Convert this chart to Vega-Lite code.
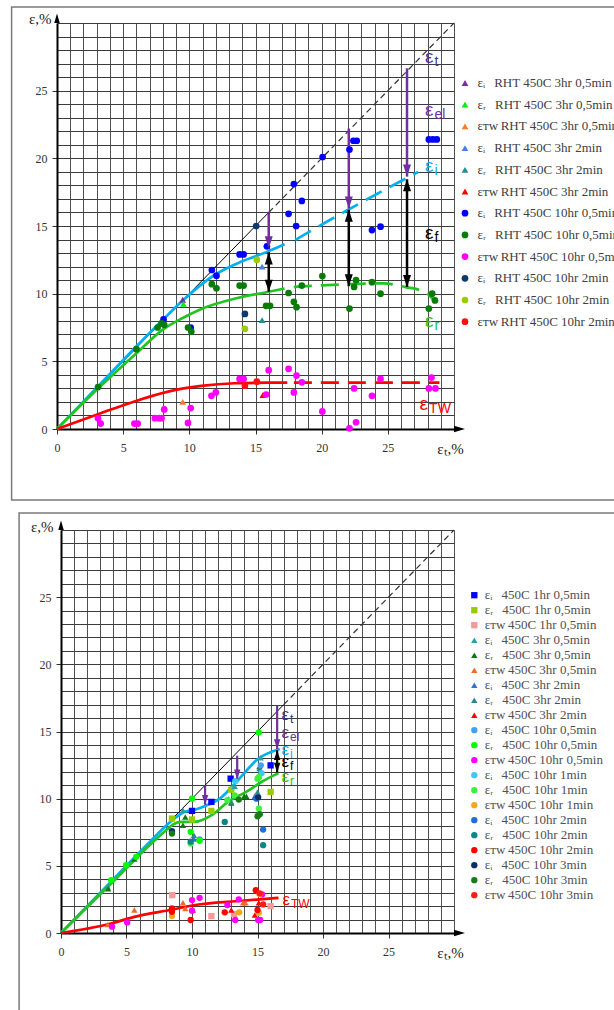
{
  "$schema": "https://vega.github.io/schema/vega-lite/v6.json",
  "background": "white",
  "padding": {"left": 10, "top": 6, "right": 0, "bottom": 0},
  "config": {"view": {"stroke": null}},
  "spacing": 101,
  "bounds": "flush",
  "resolve": {"scale": {"x": "independent", "y": "independent", "color": "independent", "shape": "independent", "fill": "independent", "stroke": "independent"}, "legend": {"color": "independent", "shape": "independent"}},
  "datasets": {
    "one": [{}],
    "topPts": [
      {"s": "εᵢ\u2002\u2009RHT 450C 3hr 0,5min", "x": 9.5, "y": 9.55},
      {"s": "εᵣ\u2002\u2009RHT 450C 3hr 0,5min", "x": 9.55, "y": 9.25},
      {"s": "εᴛᴡ\u2009RHT 450C 3hr 0,5min", "x": 9.5, "y": 2.0},
      {"s": "εᵢ\u2002\u2009RHT 450C 3hr 2min", "x": 15.5, "y": 12.0},
      {"s": "εᵣ\u2002\u2009RHT 450C 3hr 2min", "x": 15.5, "y": 8.05},
      {"s": "εᴛᴡ\u2009RHT 450C 3hr 2min", "x": 15.55, "y": 2.5},
      {"s": "εᵢ\u2002\u2009RHT 450C 10hr 0,5min", "x": 8.05, "y": 8.1},
      {"s": "εᵢ\u2002\u2009RHT 450C 10hr 0,5min", "x": 10.1, "y": 7.5},
      {"s": "εᵢ\u2002\u2009RHT 450C 10hr 0,5min", "x": 11.7, "y": 11.75},
      {"s": "εᵢ\u2002\u2009RHT 450C 10hr 0,5min", "x": 12.05, "y": 11.33},
      {"s": "εᵢ\u2002\u2009RHT 450C 10hr 0,5min", "x": 13.8, "y": 12.9},
      {"s": "εᵢ\u2002\u2009RHT 450C 10hr 0,5min", "x": 14.1, "y": 12.9},
      {"s": "εᵢ\u2002\u2009RHT 450C 10hr 0,5min", "x": 15.86, "y": 13.5},
      {"s": "εᵢ\u2002\u2009RHT 450C 10hr 0,5min", "x": 17.5, "y": 15.9},
      {"s": "εᵢ\u2002\u2009RHT 450C 10hr 0,5min", "x": 17.9, "y": 18.1},
      {"s": "εᵢ\u2002\u2009RHT 450C 10hr 0,5min", "x": 18.07, "y": 15.0},
      {"s": "εᵢ\u2002\u2009RHT 450C 10hr 0,5min", "x": 18.5, "y": 16.85},
      {"s": "εᵢ\u2002\u2009RHT 450C 10hr 0,5min", "x": 20.07, "y": 20.1},
      {"s": "εᵢ\u2002\u2009RHT 450C 10hr 0,5min", "x": 22.1, "y": 20.65},
      {"s": "εᵢ\u2002\u2009RHT 450C 10hr 0,5min", "x": 22.4, "y": 21.3},
      {"s": "εᵢ\u2002\u2009RHT 450C 10hr 0,5min", "x": 22.65, "y": 21.3},
      {"s": "εᵢ\u2002\u2009RHT 450C 10hr 0,5min", "x": 23.8, "y": 14.7},
      {"s": "εᵢ\u2002\u2009RHT 450C 10hr 0,5min", "x": 24.45, "y": 14.95},
      {"s": "εᵢ\u2002\u2009RHT 450C 10hr 0,5min", "x": 28.1, "y": 21.4},
      {"s": "εᵢ\u2002\u2009RHT 450C 10hr 0,5min", "x": 28.4, "y": 21.4},
      {"s": "εᵢ\u2002\u2009RHT 450C 10hr 0,5min", "x": 28.7, "y": 21.4},
      {"s": "εᵣ\u2002\u2009RHT 450C 10hr 0,5min", "x": 3.1, "y": 3.1},
      {"s": "εᵣ\u2002\u2009RHT 450C 10hr 0,5min", "x": 6.0, "y": 5.9},
      {"s": "εᵣ\u2002\u2009RHT 450C 10hr 0,5min", "x": 7.6, "y": 7.5},
      {"s": "εᵣ\u2002\u2009RHT 450C 10hr 0,5min", "x": 7.9, "y": 7.8},
      {"s": "εᵣ\u2002\u2009RHT 450C 10hr 0,5min", "x": 8.1, "y": 7.7},
      {"s": "εᵣ\u2002\u2009RHT 450C 10hr 0,5min", "x": 9.9, "y": 7.5},
      {"s": "εᵣ\u2002\u2009RHT 450C 10hr 0,5min", "x": 10.15, "y": 7.2},
      {"s": "εᵣ\u2002\u2009RHT 450C 10hr 0,5min", "x": 11.7, "y": 10.7},
      {"s": "εᵣ\u2002\u2009RHT 450C 10hr 0,5min", "x": 12.05, "y": 10.4},
      {"s": "εᵣ\u2002\u2009RHT 450C 10hr 0,5min", "x": 13.8, "y": 10.6},
      {"s": "εᵣ\u2002\u2009RHT 450C 10hr 0,5min", "x": 14.1, "y": 10.6},
      {"s": "εᵣ\u2002\u2009RHT 450C 10hr 0,5min", "x": 15.8, "y": 9.1},
      {"s": "εᵣ\u2002\u2009RHT 450C 10hr 0,5min", "x": 16.1, "y": 9.1},
      {"s": "εᵣ\u2002\u2009RHT 450C 10hr 0,5min", "x": 17.5, "y": 10.05},
      {"s": "εᵣ\u2002\u2009RHT 450C 10hr 0,5min", "x": 17.9, "y": 9.4},
      {"s": "εᵣ\u2002\u2009RHT 450C 10hr 0,5min", "x": 18.1, "y": 9.0},
      {"s": "εᵣ\u2002\u2009RHT 450C 10hr 0,5min", "x": 18.5, "y": 10.6},
      {"s": "εᵣ\u2002\u2009RHT 450C 10hr 0,5min", "x": 20.05, "y": 11.3},
      {"s": "εᵣ\u2002\u2009RHT 450C 10hr 0,5min", "x": 22.1, "y": 8.9},
      {"s": "εᵣ\u2002\u2009RHT 450C 10hr 0,5min", "x": 22.45, "y": 10.5},
      {"s": "εᵣ\u2002\u2009RHT 450C 10hr 0,5min", "x": 22.6, "y": 11.0},
      {"s": "εᵣ\u2002\u2009RHT 450C 10hr 0,5min", "x": 23.8, "y": 10.85},
      {"s": "εᵣ\u2002\u2009RHT 450C 10hr 0,5min", "x": 24.45, "y": 10.0},
      {"s": "εᵣ\u2002\u2009RHT 450C 10hr 0,5min", "x": 28.1, "y": 8.9},
      {"s": "εᵣ\u2002\u2009RHT 450C 10hr 0,5min", "x": 28.35, "y": 10.0},
      {"s": "εᵣ\u2002\u2009RHT 450C 10hr 0,5min", "x": 28.56, "y": 9.5},
      {"s": "εᴛᴡ\u2009RHT 450C 10hr 0,5min", "x": 3.1, "y": 0.8},
      {"s": "εᴛᴡ\u2009RHT 450C 10hr 0,5min", "x": 3.3, "y": 0.4},
      {"s": "εᴛᴡ\u2009RHT 450C 10hr 0,5min", "x": 5.85, "y": 0.4},
      {"s": "εᴛᴡ\u2009RHT 450C 10hr 0,5min", "x": 6.1, "y": 0.4},
      {"s": "εᴛᴡ\u2009RHT 450C 10hr 0,5min", "x": 7.4, "y": 0.8},
      {"s": "εᴛᴡ\u2009RHT 450C 10hr 0,5min", "x": 7.7, "y": 0.8},
      {"s": "εᴛᴡ\u2009RHT 450C 10hr 0,5min", "x": 7.9, "y": 0.8},
      {"s": "εᴛᴡ\u2009RHT 450C 10hr 0,5min", "x": 8.1, "y": 1.45},
      {"s": "εᴛᴡ\u2009RHT 450C 10hr 0,5min", "x": 10.1, "y": 1.55},
      {"s": "εᴛᴡ\u2009RHT 450C 10hr 0,5min", "x": 9.9, "y": 0.45},
      {"s": "εᴛᴡ\u2009RHT 450C 10hr 0,5min", "x": 11.67, "y": 2.45},
      {"s": "εᴛᴡ\u2009RHT 450C 10hr 0,5min", "x": 12.0, "y": 2.7},
      {"s": "εᴛᴡ\u2009RHT 450C 10hr 0,5min", "x": 13.8, "y": 3.7},
      {"s": "εᴛᴡ\u2009RHT 450C 10hr 0,5min", "x": 14.1, "y": 3.7},
      {"s": "εᴛᴡ\u2009RHT 450C 10hr 0,5min", "x": 15.8, "y": 2.55},
      {"s": "εᴛᴡ\u2009RHT 450C 10hr 0,5min", "x": 16.0, "y": 4.35},
      {"s": "εᴛᴡ\u2009RHT 450C 10hr 0,5min", "x": 17.5, "y": 4.45},
      {"s": "εᴛᴡ\u2009RHT 450C 10hr 0,5min", "x": 17.9, "y": 2.7},
      {"s": "εᴛᴡ\u2009RHT 450C 10hr 0,5min", "x": 18.1, "y": 3.95},
      {"s": "εᴛᴡ\u2009RHT 450C 10hr 0,5min", "x": 18.5, "y": 3.45},
      {"s": "εᴛᴡ\u2009RHT 450C 10hr 0,5min", "x": 20.05, "y": 1.3},
      {"s": "εᴛᴡ\u2009RHT 450C 10hr 0,5min", "x": 22.1, "y": 0.05},
      {"s": "εᴛᴡ\u2009RHT 450C 10hr 0,5min", "x": 22.45, "y": 3.0},
      {"s": "εᴛᴡ\u2009RHT 450C 10hr 0,5min", "x": 22.6, "y": 0.5},
      {"s": "εᴛᴡ\u2009RHT 450C 10hr 0,5min", "x": 23.8, "y": 2.45},
      {"s": "εᴛᴡ\u2009RHT 450C 10hr 0,5min", "x": 24.45, "y": 3.7},
      {"s": "εᴛᴡ\u2009RHT 450C 10hr 0,5min", "x": 28.3, "y": 3.8},
      {"s": "εᴛᴡ\u2009RHT 450C 10hr 0,5min", "x": 28.1, "y": 3.0},
      {"s": "εᴛᴡ\u2009RHT 450C 10hr 0,5min", "x": 28.6, "y": 3.0},
      {"s": "εᵢ\u2002\u2009RHT 450C 10hr 2min", "x": 15.05, "y": 15.0},
      {"s": "εᵢ\u2002\u2009RHT 450C 10hr 2min", "x": 14.2, "y": 8.5},
      {"s": "εᵣ\u2002\u2009RHT 450C 10hr 2min", "x": 15.1, "y": 12.5},
      {"s": "εᵣ\u2002\u2009RHT 450C 10hr 2min", "x": 14.2, "y": 7.4},
      {"s": "εᴛᴡ\u2009RHT 450C 10hr 2min", "x": 14.2, "y": 3.2},
      {"s": "εᴛᴡ\u2009RHT 450C 10hr 2min", "x": 15.1, "y": 3.5}
    ],
    "topLines": [
      {"c": "diag", "p": "solid", "x": 0, "y": 0},
      {"c": "diag", "p": "solid", "x": 16, "y": 16},
      {"c": "diag", "p": "dash", "x": 16, "y": 16},
      {"c": "diag", "p": "dash", "x": 30, "y": 30},
      {"c": "i", "p": "solid", "x": 0, "y": 0},
      {"c": "i", "p": "solid", "x": 3, "y": 3.05},
      {"c": "i", "p": "solid", "x": 6, "y": 6.1},
      {"c": "i", "p": "solid", "x": 8, "y": 8.07},
      {"c": "i", "p": "solid", "x": 9.5, "y": 9.5},
      {"c": "i", "p": "solid", "x": 11.9, "y": 11.38},
      {"c": "i", "p": "solid", "x": 13.9, "y": 12.36},
      {"c": "i", "p": "solid", "x": 15.9, "y": 13.1},
      {"c": "i", "p": "solid", "x": 17.2, "y": 13.65},
      {"c": "i", "p": "dash", "x": 18.0, "y": 13.97},
      {"c": "i", "p": "dash", "x": 22, "y": 16.2},
      {"c": "i", "p": "dash", "x": 27.3, "y": 19.0},
      {"c": "r", "p": "solid", "x": 0, "y": 0},
      {"c": "r", "p": "solid", "x": 3, "y": 2.9},
      {"c": "r", "p": "solid", "x": 6, "y": 5.6},
      {"c": "r", "p": "solid", "x": 8, "y": 7.35},
      {"c": "r", "p": "solid", "x": 9.5, "y": 8.2},
      {"c": "r", "p": "solid", "x": 11, "y": 8.9},
      {"c": "r", "p": "solid", "x": 13.4, "y": 9.62},
      {"c": "r", "p": "solid", "x": 15.9, "y": 10.12},
      {"c": "r", "p": "solid", "x": 17.2, "y": 10.38},
      {"c": "r", "p": "dash", "x": 17.9, "y": 10.5},
      {"c": "r", "p": "dash", "x": 21.7, "y": 10.69},
      {"c": "r", "p": "dash", "x": 24.7, "y": 10.76},
      {"c": "r", "p": "dash", "x": 26.4, "y": 10.47},
      {"c": "r", "p": "dash", "x": 27.3, "y": 10.3},
      {"c": "r", "p": "dash", "x": 28.1, "y": 9.9},
      {"c": "r", "p": "dash", "x": 28.4, "y": 9.6},
      {"c": "TW", "p": "solid", "x": 0, "y": 0},
      {"c": "TW", "p": "solid", "x": 3.3, "y": 1.16},
      {"c": "TW", "p": "solid", "x": 5.8, "y": 2.02},
      {"c": "TW", "p": "solid", "x": 8.4, "y": 2.76},
      {"c": "TW", "p": "solid", "x": 10.9, "y": 3.18},
      {"c": "TW", "p": "solid", "x": 13.4, "y": 3.38},
      {"c": "TW", "p": "solid", "x": 15.9, "y": 3.42},
      {"c": "TW", "p": "solid", "x": 17.4, "y": 3.42},
      {"c": "TW", "p": "dash", "x": 17.9, "y": 3.42},
      {"c": "TW", "p": "dash", "x": 28.9, "y": 3.42}
    ],
    "topArrows": [
      {"k": "el", "x": 16.0, "y1": 16.05, "y2": 13.35},
      {"k": "el", "x": 22.05, "y1": 22.2, "y2": 16.3},
      {"k": "el", "x": 26.45, "y1": 26.65, "y2": 18.65},
      {"k": "f", "x": 16.0, "y1": 13.05, "y2": 10.15},
      {"k": "f", "x": 22.05, "y1": 16.2, "y2": 10.55},
      {"k": "f", "x": 26.45, "y1": 18.45, "y2": 10.5}
    ],
    "topLabels": [
      {"k": "t", "x": 27.8, "y": 27.5, "sub": "t"},
      {"k": "el", "x": 27.8, "y": 23.6, "sub": "el"},
      {"k": "i", "x": 27.8, "y": 19.4, "sub": "i"},
      {"k": "f", "x": 27.8, "y": 14.5, "sub": "f"},
      {"k": "r", "x": 27.8, "y": 8.0, "sub": "r"},
      {"k": "TW", "x": 27.4, "y": 1.85, "sub": "TW"}
    ],
    "botPts": [
      {"s": "εᵢ\u2002\u2009450C 1hr 0,5min", "x": 10.0, "y": 9.09},
      {"s": "εᵢ\u2002\u2009450C 1hr 0,5min", "x": 11.48, "y": 9.76},
      {"s": "εᵢ\u2002\u2009450C 1hr 0,5min", "x": 12.95, "y": 11.49},
      {"s": "εᵢ\u2002\u2009450C 1hr 0,5min", "x": 16.0, "y": 12.48},
      {"s": "εᵣ\u2002\u2009450C 1hr 0,5min", "x": 8.47, "y": 8.52},
      {"s": "εᵣ\u2002\u2009450C 1hr 0,5min", "x": 10.0, "y": 8.45},
      {"s": "εᵣ\u2002\u2009450C 1hr 0,5min", "x": 11.48, "y": 9.09},
      {"s": "εᵣ\u2002\u2009450C 1hr 0,5min", "x": 13.0, "y": 10.67},
      {"s": "εᵣ\u2002\u2009450C 1hr 0,5min", "x": 16.0, "y": 10.5},
      {"s": "εᴛᴡ\u2009450C 1hr 0,5min", "x": 8.49, "y": 2.82},
      {"s": "εᴛᴡ\u2009450C 1hr 0,5min", "x": 11.48, "y": 1.26},
      {"s": "εᴛᴡ\u2009450C 1hr 0,5min", "x": 13.2, "y": 1.41},
      {"s": "εᴛᴡ\u2009450C 1hr 0,5min", "x": 16.0, "y": 2.0},
      {"s": "εᵢ\u2002\u2009450C 3hr 0,5min", "x": 3.57, "y": 3.44},
      {"s": "εᵢ\u2002\u2009450C 3hr 0,5min", "x": 9.31, "y": 9.14},
      {"s": "εᵢ\u2002\u2009450C 3hr 0,5min", "x": 12.8, "y": 10.0},
      {"s": "εᵢ\u2002\u2009450C 3hr 0,5min", "x": 13.26, "y": 10.92},
      {"s": "εᵢ\u2002\u2009450C 3hr 0,5min", "x": 15.25, "y": 13.05},
      {"s": "εᵣ\u2002\u2009450C 3hr 0,5min", "x": 3.6, "y": 3.3},
      {"s": "εᵣ\u2002\u2009450C 3hr 0,5min", "x": 5.6, "y": 5.5},
      {"s": "εᵣ\u2002\u2009450C 3hr 0,5min", "x": 9.31, "y": 8.02},
      {"s": "εᵣ\u2002\u2009450C 3hr 0,5min", "x": 9.49, "y": 8.64},
      {"s": "εᵣ\u2002\u2009450C 3hr 0,5min", "x": 13.0, "y": 9.68},
      {"s": "εᵣ\u2002\u2009450C 3hr 0,5min", "x": 13.98, "y": 10.18},
      {"s": "εᵣ\u2002\u2009450C 3hr 0,5min", "x": 14.15, "y": 10.18},
      {"s": "εᵣ\u2002\u2009450C 3hr 0,5min", "x": 15.15, "y": 12.4},
      {"s": "εᴛᴡ\u2009450C 3hr 0,5min", "x": 3.57, "y": 0.64},
      {"s": "εᴛᴡ\u2009450C 3hr 0,5min", "x": 5.6, "y": 1.71},
      {"s": "εᴛᴡ\u2009450C 3hr 0,5min", "x": 9.31, "y": 2.25},
      {"s": "εᴛᴡ\u2009450C 3hr 0,5min", "x": 9.49, "y": 1.83},
      {"s": "εᴛᴡ\u2009450C 3hr 0,5min", "x": 13.9, "y": 2.25},
      {"s": "εᴛᴡ\u2009450C 3hr 0,5min", "x": 14.08, "y": 2.25},
      {"s": "εᵢ\u2002\u2009450C 3hr 2min", "x": 10.15, "y": 7.0},
      {"s": "εᵢ\u2002\u2009450C 3hr 2min", "x": 14.79, "y": 10.18},
      {"s": "εᵣ\u2002\u2009450C 3hr 2min", "x": 10.15, "y": 7.28},
      {"s": "εᵣ\u2002\u2009450C 3hr 2min", "x": 13.0, "y": 9.75},
      {"s": "εᵣ\u2002\u2009450C 3hr 2min", "x": 15.15, "y": 12.24},
      {"s": "εᵣ\u2002\u2009450C 3hr 2min", "x": 15.0, "y": 10.5},
      {"s": "εᴛᴡ\u2009450C 3hr 2min", "x": 10.07, "y": 1.71},
      {"s": "εᴛᴡ\u2009450C 3hr 2min", "x": 13.0, "y": 1.71},
      {"s": "εᴛᴡ\u2009450C 3hr 2min", "x": 14.8, "y": 1.34},
      {"s": "εᴛᴡ\u2009450C 3hr 2min", "x": 15.1, "y": 2.25},
      {"s": "εᵢ\u2002\u2009450C 10hr 0,5min", "x": 10.58, "y": 6.96},
      {"s": "εᵢ\u2002\u2009450C 10hr 0,5min", "x": 15.25, "y": 12.48},
      {"s": "εᵣ\u2002\u2009450C 10hr 0,5min", "x": 3.83, "y": 3.94},
      {"s": "εᵣ\u2002\u2009450C 10hr 0,5min", "x": 4.97, "y": 5.05},
      {"s": "εᵣ\u2002\u2009450C 10hr 0,5min", "x": 5.74, "y": 5.67},
      {"s": "εᵣ\u2002\u2009450C 10hr 0,5min", "x": 10.0, "y": 10.0},
      {"s": "εᵣ\u2002\u2009450C 10hr 0,5min", "x": 15.1, "y": 14.93},
      {"s": "εᵣ\u2002\u2009450C 10hr 0,5min", "x": 9.9, "y": 7.53},
      {"s": "εᵣ\u2002\u2009450C 10hr 0,5min", "x": 10.58, "y": 6.87},
      {"s": "εᴛᴡ\u2009450C 10hr 0,5min", "x": 3.9, "y": 0.47},
      {"s": "εᴛᴡ\u2009450C 10hr 0,5min", "x": 5.05, "y": 0.79},
      {"s": "εᴛᴡ\u2009450C 10hr 0,5min", "x": 10.0, "y": 2.45},
      {"s": "εᴛᴡ\u2009450C 10hr 0,5min", "x": 10.58, "y": 2.62},
      {"s": "εᴛᴡ\u2009450C 10hr 0,5min", "x": 10.0, "y": 1.66},
      {"s": "εᴛᴡ\u2009450C 10hr 0,5min", "x": 12.7, "y": 2.08},
      {"s": "εᴛᴡ\u2009450C 10hr 0,5min", "x": 13.3, "y": 0.97},
      {"s": "εᴛᴡ\u2009450C 10hr 0,5min", "x": 13.57, "y": 2.5},
      {"s": "εᴛᴡ\u2009450C 10hr 0,5min", "x": 15.35, "y": 2.87},
      {"s": "εᴛᴡ\u2009450C 10hr 0,5min", "x": 15.05, "y": 0.97},
      {"s": "εᴛᴡ\u2009450C 10hr 0,5min", "x": 15.2, "y": 0.97},
      {"s": "εᵢ\u2002\u2009450C 10hr 1min", "x": 13.3, "y": 11.3},
      {"s": "εᵢ\u2002\u2009450C 10hr 1min", "x": 15.3, "y": 11.9},
      {"s": "εᵣ\u2002\u2009450C 10hr 1min", "x": 9.9, "y": 6.66},
      {"s": "εᵣ\u2002\u2009450C 10hr 1min", "x": 13.26, "y": 10.25},
      {"s": "εᵣ\u2002\u2009450C 10hr 1min", "x": 15.0, "y": 11.49},
      {"s": "εᵣ\u2002\u2009450C 10hr 1min", "x": 15.1, "y": 11.6},
      {"s": "εᵣ\u2002\u2009450C 10hr 1min", "x": 15.1, "y": 9.26},
      {"s": "εᵣ\u2002\u2009450C 10hr 1min", "x": 12.7, "y": 9.88},
      {"s": "εᴛᴡ\u2009450C 10hr 1min", "x": 8.47, "y": 1.26},
      {"s": "εᴛᴡ\u2009450C 10hr 1min", "x": 13.6, "y": 1.54},
      {"s": "εᴛᴡ\u2009450C 10hr 1min", "x": 15.15, "y": 2.9},
      {"s": "εᴛᴡ\u2009450C 10hr 1min", "x": 15.1, "y": 1.51},
      {"s": "εᵢ\u2002\u2009450C 10hr 2min", "x": 14.92, "y": 10.0},
      {"s": "εᵢ\u2002\u2009450C 10hr 2min", "x": 15.43, "y": 7.7},
      {"s": "εᵣ\u2002\u2009450C 10hr 2min", "x": 12.5, "y": 8.27},
      {"s": "εᵣ\u2002\u2009450C 10hr 2min", "x": 15.43, "y": 6.54},
      {"s": "εᵣ\u2002\u2009450C 10hr 2min", "x": 9.9, "y": 6.8},
      {"s": "εᴛᴡ\u2009450C 10hr 2min", "x": 8.47, "y": 1.83},
      {"s": "εᴛᴡ\u2009450C 10hr 2min", "x": 8.47, "y": 1.58},
      {"s": "εᴛᴡ\u2009450C 10hr 2min", "x": 9.9, "y": 0.97},
      {"s": "εᴛᴡ\u2009450C 10hr 2min", "x": 12.5, "y": 1.54},
      {"s": "εᴛᴡ\u2009450C 10hr 2min", "x": 14.87, "y": 3.19},
      {"s": "εᴛᴡ\u2009450C 10hr 2min", "x": 15.0, "y": 1.71},
      {"s": "εᵢ\u2002\u2009450C 10hr 3min", "x": 8.47, "y": 7.58},
      {"s": "εᵢ\u2002\u2009450C 10hr 3min", "x": 15.05, "y": 10.1},
      {"s": "εᵣ\u2002\u2009450C 10hr 3min", "x": 8.47, "y": 7.4},
      {"s": "εᵣ\u2002\u2009450C 10hr 3min", "x": 15.0, "y": 8.69},
      {"s": "εᵣ\u2002\u2009450C 10hr 3min", "x": 15.17, "y": 8.84},
      {"s": "εᵣ\u2002\u2009450C 10hr 3min", "x": 13.57, "y": 9.93},
      {"s": "εᴛᴡ\u2009450C 10hr 3min", "x": 15.17, "y": 2.95},
      {"s": "εᴛᴡ\u2009450C 10hr 3min", "x": 15.43, "y": 2.13}
    ],
    "botLines": [
      {"c": "diag", "p": "solid", "x": 0, "y": 0},
      {"c": "diag", "p": "solid", "x": 17, "y": 17},
      {"c": "diag", "p": "dash", "x": 17, "y": 17},
      {"c": "diag", "p": "dash", "x": 30, "y": 30},
      {"c": "i", "p": "solid", "x": 0, "y": 0},
      {"c": "i", "p": "solid", "x": 4, "y": 4.0},
      {"c": "i", "p": "solid", "x": 7, "y": 7.0},
      {"c": "i", "p": "solid", "x": 8.2, "y": 8.15},
      {"c": "i", "p": "solid", "x": 8.7, "y": 8.55},
      {"c": "i", "p": "solid", "x": 9.4, "y": 9.0},
      {"c": "i", "p": "solid", "x": 10.2, "y": 9.17},
      {"c": "i", "p": "solid", "x": 11.0, "y": 9.45},
      {"c": "i", "p": "solid", "x": 12.24, "y": 10.1},
      {"c": "i", "p": "solid", "x": 13.5, "y": 11.37},
      {"c": "i", "p": "solid", "x": 15.05, "y": 12.97},
      {"c": "i", "p": "solid", "x": 16.7, "y": 13.7},
      {"c": "r", "p": "solid", "x": 0, "y": 0},
      {"c": "r", "p": "solid", "x": 4, "y": 3.85},
      {"c": "r", "p": "solid", "x": 7, "y": 6.75},
      {"c": "r", "p": "solid", "x": 8.2, "y": 7.8},
      {"c": "r", "p": "solid", "x": 8.6, "y": 8.1},
      {"c": "r", "p": "solid", "x": 9.2, "y": 8.27},
      {"c": "r", "p": "solid", "x": 10.2, "y": 8.27},
      {"c": "r", "p": "solid", "x": 11.5, "y": 8.77},
      {"c": "r", "p": "solid", "x": 12.75, "y": 9.76},
      {"c": "r", "p": "solid", "x": 14.3, "y": 10.6},
      {"c": "r", "p": "solid", "x": 15.3, "y": 11.24},
      {"c": "r", "p": "solid", "x": 16.6, "y": 11.9},
      {"c": "TW", "p": "solid", "x": 0, "y": 0},
      {"c": "TW", "p": "solid", "x": 3.6, "y": 0.65},
      {"c": "TW", "p": "solid", "x": 5.6, "y": 1.2},
      {"c": "TW", "p": "solid", "x": 8.5, "y": 1.75},
      {"c": "TW", "p": "solid", "x": 10, "y": 2.05},
      {"c": "TW", "p": "solid", "x": 13.8, "y": 2.4},
      {"c": "TW", "p": "solid", "x": 16.6, "y": 2.62}
    ],
    "botArrows": [
      {"k": "el", "x": 11.0, "y1": 11.0, "y2": 9.55},
      {"k": "el", "x": 13.45, "y1": 13.2, "y2": 11.45},
      {"k": "el", "x": 16.5, "y1": 16.9, "y2": 13.7},
      {"k": "f", "x": 16.5, "y1": 13.6, "y2": 11.95}
    ],
    "botLabels": [
      {"k": "t", "x": 16.83, "y": 16.26, "sub": "t"},
      {"k": "el", "x": 16.83, "y": 14.9, "sub": "el"},
      {"k": "i", "x": 16.83, "y": 13.65, "sub": "i"},
      {"k": "f", "x": 16.83, "y": 12.75, "sub": "f"},
      {"k": "r", "x": 16.83, "y": 11.6, "sub": "r"},
      {"k": "TW", "x": 16.9, "y": 2.46, "sub": "TW"}
    ]
  },
  "vconcat": [
    {
      "width": 397,
      "height": 406,
      "layer": [
        {
          "data": {"name": "one"},
          "mark": {"type": "rect", "fill": "transparent", "stroke": "#7a7a7a", "strokeWidth": 1.5},
          "encoding": {
            "x": {"datum": -3.43, "type": "quantitative", "scale": {"domain": [0, 30], "nice": false, "zero": false},
              "axis": {"values": [0,1,2,3,4,5,6,7,8,9,10,11,12,13,14,15,16,17,18,19,20,21,22,23,24,25,26,27,28,29,30], "tickCount": 500, "format": "d", "grid": true, "gridColor": "#505050", "gridWidth": 1, "gridOpacity": 1, "domainColor": "#000000", "domainWidth": 2, "tickColor": "#333333", "tickSize": 5, "tickWidth": 1, "tickOpacity": {"condition": {"test": "datum.value % 5 === 0 && datum.value < 30", "value": 1}, "value": 0}, "labelExpr": "datum.value % 5 === 0 && datum.value < 30 ? datum.label : ''", "labelFont": "Liberation Serif", "labelFontSize": 12, "labelColor": "#333333", "labelPadding": 8, "labelOverlap": false, "labelFlush": false, "labelBound": false, "title": "εₜ,%", "titleFont": "Liberation Serif", "titleFontSize": 15, "titleFontWeight": "normal", "titleColor": "#222222", "titleX": 393, "titleY": 19, "titleAlign": "center", "titleBaseline": "middle", "titleAngle": 0}},
            "x2": {"datum": 46},
            "y": {"datum": 31.18, "type": "quantitative", "scale": {"domain": [0, 30], "nice": false, "zero": false},
              "axis": {"values": [0,0.5,1,1.5,2,2.5,3,3.5,4,4.5,5,5.5,6,6.5,7,7.5,8,8.5,9,9.5,10,10.5,11,11.5,12,12.5,13,13.5,14,14.5,15,15.5,16,16.5,17,17.5,18,18.5,19,19.5,20,20.5,21,21.5,22,22.5,23,23.5,24,24.5,25,25.5,26,26.5,27,27.5,28,28.5,29,29.5,30], "tickCount": 500, "format": "d", "grid": true, "gridColor": {"condition": {"test": "datum.value % 1 === 0", "value": "#3c3c3c"}, "value": "#8c8c8c"}, "gridWidth": 1, "domainColor": "#000000", "domainWidth": 2, "tickColor": "#333333", "tickSize": 5, "tickWidth": 1, "tickOpacity": {"condition": {"test": "datum.value % 5 === 0 && datum.value < 30", "value": 1}, "value": 0}, "labelExpr": "datum.value % 5 === 0 && datum.value < 30 ? datum.label : ''", "labelFont": "Liberation Serif", "labelFontSize": 12, "labelColor": "#333333", "labelPadding": 5, "labelOverlap": false, "labelFlush": false, "labelBound": false, "title": "ε,%", "titleFont": "Liberation Serif", "titleFontSize": 15, "titleFontWeight": "normal", "titleColor": "#222222", "titleAngle": 0, "titleX": -6, "titleY": -5, "titleAlign": "right", "titleBaseline": "middle"}},
            "y2": {"datum": -5.24}
          }
        },
        {
          "data": {"name": "topLines"},
          "transform": [{"filter": "datum.c === 'diag' && datum.p === 'solid'"}],
          "mark": {"type": "line", "color": "#000000", "strokeWidth": 1},
          "encoding": {"x": {"field": "x", "type": "quantitative"}, "y": {"field": "y", "type": "quantitative"}}
        },
        {
          "data": {"name": "topLines"},
          "transform": [{"filter": "datum.c === 'diag' && datum.p === 'dash'"}],
          "mark": {"type": "line", "color": "#333333", "strokeWidth": 1.2, "strokeDash": [6, 4]},
          "encoding": {"x": {"field": "x", "type": "quantitative"}, "y": {"field": "y", "type": "quantitative"}}
        },
        {
          "data": {"name": "topLines"},
          "transform": [{"filter": "datum.c !== 'diag' && datum.p === 'solid'"}],
          "mark": {"type": "line", "strokeWidth": 2.7, "interpolate": "monotone"},
          "encoding": {"x": {"field": "x", "type": "quantitative"}, "y": {"field": "y", "type": "quantitative"},
            "stroke": {"field": "c", "type": "nominal", "legend": null, "scale": {"domain": ["t", "el", "i", "f", "r", "TW"], "range": ["#3d35a5", "#7030a0", "#00b0f0", "#000000", "#22c422", "#ff0000"]}}}
        },
        {
          "data": {"name": "topLines"},
          "transform": [{"filter": "datum.c !== 'diag' && datum.p === 'dash'"}],
          "mark": {"type": "line", "strokeWidth": 2.7, "interpolate": "monotone", "strokeDash": [18, 9]},
          "encoding": {"x": {"field": "x", "type": "quantitative"}, "y": {"field": "y", "type": "quantitative"},
            "stroke": {"field": "c", "type": "nominal", "legend": null, "scale": {"domain": ["t", "el", "i", "f", "r", "TW"], "range": ["#3d35a5", "#7030a0", "#00b0f0", "#000000", "#22c422", "#ff0000"]}}}
        },
        {
          "data": {"name": "topArrows"},
          "mark": {"type": "rule", "strokeWidth": 2.5},
          "encoding": {"x": {"field": "x", "type": "quantitative"}, "y": {"field": "y1", "type": "quantitative"}, "y2": {"field": "y2"},
            "stroke": {"field": "k", "type": "nominal", "legend": null, "scale": {"domain": ["t", "el", "i", "f", "r", "TW"], "range": ["#3d35a5", "#7030a0", "#00b0f0", "#000000", "#22c422", "#ff0000"]}}}
        },
        {
          "data": {"name": "topPts"},
          "mark": {"type": "point", "filled": true, "size": 45, "opacity": 1},
          "encoding": {"x": {"field": "x", "type": "quantitative"}, "y": {"field": "y", "type": "quantitative"},
            "color": {"field": "s", "type": "nominal",
              "scale": {"domain": ["εᵢ\u2002\u2009RHT 450C 3hr 0,5min", "εᵣ\u2002\u2009RHT 450C 3hr 0,5min", "εᴛᴡ\u2009RHT 450C 3hr 0,5min", "εᵢ\u2002\u2009RHT 450C 3hr 2min", "εᵣ\u2002\u2009RHT 450C 3hr 2min", "εᴛᴡ\u2009RHT 450C 3hr 2min", "εᵢ\u2002\u2009RHT 450C 10hr 0,5min", "εᵣ\u2002\u2009RHT 450C 10hr 0,5min", "εᴛᴡ\u2009RHT 450C 10hr 0,5min", "εᵢ\u2002\u2009RHT 450C 10hr 2min", "εᵣ\u2002\u2009RHT 450C 10hr 2min", "εᴛᴡ\u2009RHT 450C 10hr 2min"],
                "range": ["#7b2c9e", "#00ee00", "#ff7a26", "#4a7ef0", "#1f8f8f", "#ff0000", "#0000ff", "#077d07", "#ff00ff", "#0b3a6e", "#9acd00", "#ff1010"]},
              "legend": {"title": null, "orient": "none", "legendX": 401.5, "legendY": 53.5, "padding": 0, "labelFont": "Liberation Serif", "labelFontSize": 13, "labelColor": "#404040", "labelLimit": 0, "labelOffset": 6, "rowPadding": 7.7, "symbolSize": 45, "symbolStrokeWidth": 0}},
            "shape": {"field": "s", "type": "nominal",
              "scale": {"domain": ["εᵢ\u2002\u2009RHT 450C 3hr 0,5min", "εᵣ\u2002\u2009RHT 450C 3hr 0,5min", "εᴛᴡ\u2009RHT 450C 3hr 0,5min", "εᵢ\u2002\u2009RHT 450C 3hr 2min", "εᵣ\u2002\u2009RHT 450C 3hr 2min", "εᴛᴡ\u2009RHT 450C 3hr 2min", "εᵢ\u2002\u2009RHT 450C 10hr 0,5min", "εᵣ\u2002\u2009RHT 450C 10hr 0,5min", "εᴛᴡ\u2009RHT 450C 10hr 0,5min", "εᵢ\u2002\u2009RHT 450C 10hr 2min", "εᵣ\u2002\u2009RHT 450C 10hr 2min", "εᴛᴡ\u2009RHT 450C 10hr 2min"],
                "range": ["triangle-up", "triangle-up", "triangle-up", "triangle-up", "triangle-up", "triangle-up", "circle", "circle", "circle", "circle", "circle", "circle"]},
              "legend": {"title": null, "orient": "none", "legendX": 401.5, "legendY": 53.5, "padding": 0, "labelFont": "Liberation Serif", "labelFontSize": 13, "labelColor": "#404040", "labelLimit": 0, "labelOffset": 6, "rowPadding": 7.7, "symbolSize": 45, "symbolStrokeWidth": 0}}}
        },
        {
          "data": {"name": "topArrows"},
          "mark": {"type": "point", "filled": true, "size": 100, "opacity": 1, "strokeWidth": 0, "shape": "M-0.8,-2.4L0.8,-2.4L0,0Z"},
          "encoding": {"x": {"field": "x", "type": "quantitative"}, "y": {"field": "y2", "type": "quantitative"},
            "fill": {"field": "k", "type": "nominal", "legend": null, "scale": {"domain": ["t", "el", "i", "f", "r", "TW"], "range": ["#3d35a5", "#7030a0", "#00b0f0", "#000000", "#22c422", "#ff0000"]}}}
        },
        {
          "data": {"name": "topArrows"},
          "transform": [{"filter": "datum.k === 'f'"}],
          "mark": {"type": "point", "filled": true, "size": 100, "opacity": 1, "strokeWidth": 0, "shape": "M-0.8,2.4L0.8,2.4L0,0Z"},
          "encoding": {"x": {"field": "x", "type": "quantitative"}, "y": {"field": "y1", "type": "quantitative"},
            "fill": {"field": "k", "type": "nominal", "legend": null, "scale": {"domain": ["t", "el", "i", "f", "r", "TW"], "range": ["#3d35a5", "#7030a0", "#00b0f0", "#000000", "#22c422", "#ff0000"]}}}
        },
        {
          "data": {"name": "topLabels"},
          "mark": {"type": "text", "text": "ε", "font": "Liberation Sans", "fontSize": 19, "align": "left", "baseline": "middle"},
          "encoding": {"x": {"field": "x", "type": "quantitative"}, "y": {"field": "y", "type": "quantitative"},
            "fill": {"field": "k", "type": "nominal", "legend": null, "scale": {"domain": ["t", "el", "i", "f", "r", "TW"], "range": ["#3d35a5", "#7030a0", "#00b0f0", "#000000", "#22c422", "#ff0000"]}}}
        },
        {
          "data": {"name": "topLabels"},
          "mark": {"type": "text", "font": "Liberation Sans", "fontSize": 14, "align": "left", "baseline": "middle", "dx": 9.5, "dy": 5},
          "encoding": {"x": {"field": "x", "type": "quantitative"}, "y": {"field": "y", "type": "quantitative"}, "text": {"field": "sub"},
            "fill": {"field": "k", "type": "nominal", "legend": null, "scale": {"domain": ["t", "el", "i", "f", "r", "TW"], "range": ["#3d35a5", "#7030a0", "#00b0f0", "#000000", "#22c422", "#ff0000"]}}}
        },
        {
          "data": {"name": "one"},
          "mark": {"type": "point", "filled": true, "size": 100, "opacity": 1, "color": "#000000", "strokeWidth": 0, "shape": "M-0.55,0L0.55,0L0,-1.9Z"},
          "encoding": {"x": {"datum": 0, "type": "quantitative"}, "y": {"datum": 30, "type": "quantitative"}}
        },
        {
          "data": {"name": "one"},
          "mark": {"type": "point", "filled": true, "size": 100, "opacity": 1, "color": "#000000", "strokeWidth": 0, "shape": "M0,-0.65L0,0.65L2.2,0Z"},
          "encoding": {"x": {"datum": 30, "type": "quantitative"}, "y": {"datum": 0, "type": "quantitative"}}
        }
      ]
    },
    {
      "width": 397,
      "height": 403,
      "layer": [
        {
          "data": {"name": "one"},
          "mark": {"type": "rect", "fill": "transparent", "stroke": "#7a7a7a", "strokeWidth": 1.5},
          "encoding": {
            "x": {"datum": -3.2, "type": "quantitative", "scale": {"domain": [0, 30], "range": [4, 397], "nice": false, "zero": false},
              "axis": {"values": [0,1,2,3,4,5,6,7,8,9,10,11,12,13,14,15,16,17,18,19,20,21,22,23,24,25,26,27,28,29,30], "tickCount": 500, "format": "d", "grid": true, "gridColor": "#505050", "gridWidth": 1, "gridOpacity": 1, "domainColor": "#000000", "domainWidth": 2, "tickColor": "#333333", "tickSize": 5, "tickWidth": 1, "tickOpacity": {"condition": {"test": "datum.value % 5 === 0 && datum.value < 30", "value": 1}, "value": 0}, "labelExpr": "datum.value % 5 === 0 && datum.value < 30 ? datum.label : ''", "labelFont": "Liberation Serif", "labelFontSize": 12, "labelColor": "#333333", "labelPadding": 8, "labelOverlap": false, "labelFlush": false, "labelBound": false, "title": "εₜ,%", "titleFont": "Liberation Serif", "titleFontSize": 15, "titleFontWeight": "normal", "titleColor": "#222222", "titleX": 393, "titleY": 19, "titleAlign": "center", "titleBaseline": "middle", "titleAngle": 0}},
            "x2": {"datum": 46},
            "y": {"datum": 31.27, "type": "quantitative", "scale": {"domain": [0, 30], "nice": false, "zero": false},
              "axis": {"offset": -4, "values": [0,0.5,1,1.5,2,2.5,3,3.5,4,4.5,5,5.5,6,6.5,7,7.5,8,8.5,9,9.5,10,10.5,11,11.5,12,12.5,13,13.5,14,14.5,15,15.5,16,16.5,17,17.5,18,18.5,19,19.5,20,20.5,21,21.5,22,22.5,23,23.5,24,24.5,25,25.5,26,26.5,27,27.5,28,28.5,29,29.5,30], "tickCount": 500, "format": "d", "grid": true, "gridColor": {"condition": {"test": "datum.value % 1 === 0", "value": "#3c3c3c"}, "value": "#8c8c8c"}, "gridWidth": 1, "domainColor": "#000000", "domainWidth": 2, "tickColor": "#333333", "tickSize": 5, "tickWidth": 1, "tickOpacity": {"condition": {"test": "datum.value % 5 === 0 && datum.value < 30", "value": 1}, "value": 0}, "labelExpr": "datum.value % 5 === 0 && datum.value < 30 ? datum.label : ''", "labelFont": "Liberation Serif", "labelFontSize": 12, "labelColor": "#333333", "labelPadding": 5, "labelOverlap": false, "labelFlush": false, "labelBound": false, "title": "ε,%", "titleFont": "Liberation Serif", "titleFontSize": 15, "titleFontWeight": "normal", "titleColor": "#222222", "titleAngle": 0, "titleX": -8, "titleY": -4, "titleAlign": "right", "titleBaseline": "middle"}},
            "y2": {"datum": -7}
          }
        },
        {
          "data": {"name": "botLines"},
          "transform": [{"filter": "datum.c === 'diag' && datum.p === 'solid'"}],
          "mark": {"type": "line", "color": "#000000", "strokeWidth": 1},
          "encoding": {"x": {"field": "x", "type": "quantitative"}, "y": {"field": "y", "type": "quantitative"}}
        },
        {
          "data": {"name": "botLines"},
          "transform": [{"filter": "datum.c === 'diag' && datum.p === 'dash'"}],
          "mark": {"type": "line", "color": "#333333", "strokeWidth": 1.2, "strokeDash": [6, 4]},
          "encoding": {"x": {"field": "x", "type": "quantitative"}, "y": {"field": "y", "type": "quantitative"}}
        },
        {
          "data": {"name": "botLines"},
          "transform": [{"filter": "datum.c !== 'diag'"}],
          "mark": {"type": "line", "strokeWidth": 2.7, "interpolate": "monotone"},
          "encoding": {"x": {"field": "x", "type": "quantitative"}, "y": {"field": "y", "type": "quantitative"},
            "stroke": {"field": "c", "type": "nominal", "legend": null, "scale": {"domain": ["t", "el", "i", "f", "r", "TW"], "range": ["#3030a0", "#7030a0", "#00b0f0", "#000000", "#22c422", "#ff0000"]}}}
        },
        {
          "data": {"name": "botArrows"},
          "mark": {"type": "rule", "strokeWidth": 2.2},
          "encoding": {"x": {"field": "x", "type": "quantitative"}, "y": {"field": "y1", "type": "quantitative"}, "y2": {"field": "y2"},
            "stroke": {"field": "k", "type": "nominal", "legend": null, "scale": {"domain": ["t", "el", "i", "f", "r", "TW"], "range": ["#3030a0", "#7030a0", "#00b0f0", "#000000", "#22c422", "#ff0000"]}}}
        },
        {
          "data": {"name": "botPts"},
          "mark": {"type": "point", "filled": true, "size": 40, "opacity": 1},
          "encoding": {"x": {"field": "x", "type": "quantitative"}, "y": {"field": "y", "type": "quantitative"},
            "color": {"field": "s", "type": "nominal",
              "scale": {"domain": ["εᵢ\u2002\u2009450C 1hr 0,5min", "εᵣ\u2002\u2009450C 1hr 0,5min", "εᴛᴡ\u2009450C 1hr 0,5min", "εᵢ\u2002\u2009450C 3hr 0,5min", "εᵣ\u2002\u2009450C 3hr 0,5min", "εᴛᴡ\u2009450C 3hr 0,5min", "εᵢ\u2002\u2009450C 3hr 2min", "εᵣ\u2002\u2009450C 3hr 2min", "εᴛᴡ\u2009450C 3hr 2min", "εᵢ\u2002\u2009450C 10hr 0,5min", "εᵣ\u2002\u2009450C 10hr 0,5min", "εᴛᴡ\u2009450C 10hr 0,5min", "εᵢ\u2002\u2009450C 10hr 1min", "εᵣ\u2002\u2009450C 10hr 1min", "εᴛᴡ\u2009450C 10hr 1min", "εᵢ\u2002\u2009450C 10hr 2min", "εᵣ\u2002\u2009450C 10hr 2min", "εᴛᴡ\u2009450C 10hr 2min", "εᵢ\u2002\u2009450C 10hr 3min", "εᵣ\u2002\u2009450C 10hr 3min", "εᴛᴡ\u2009450C 10hr 3min"],
                "range": ["#0000ff", "#99cc00", "#f59a9a", "#2aa0a0", "#107a10", "#f06a30", "#3a6fd0", "#2a8a8a", "#ff0000", "#3fa0f5", "#00ff00", "#ff00ff", "#3cc8f5", "#3cf03c", "#f0a820", "#1f6fd8", "#0c8585", "#ff0000", "#0d2f66", "#167d16", "#ff1a1a"]},
              "legend": {"title": null, "orient": "none", "legendX": 410.8, "legendY": 58.7, "padding": 0, "labelFont": "Liberation Serif", "labelFontSize": 13, "labelColor": "#505050", "labelLimit": 0, "labelOffset": 4, "rowPadding": 1, "symbolSize": 40, "symbolStrokeWidth": 0}},
            "shape": {"field": "s", "type": "nominal",
              "scale": {"domain": ["εᵢ\u2002\u2009450C 1hr 0,5min", "εᵣ\u2002\u2009450C 1hr 0,5min", "εᴛᴡ\u2009450C 1hr 0,5min", "εᵢ\u2002\u2009450C 3hr 0,5min", "εᵣ\u2002\u2009450C 3hr 0,5min", "εᴛᴡ\u2009450C 3hr 0,5min", "εᵢ\u2002\u2009450C 3hr 2min", "εᵣ\u2002\u2009450C 3hr 2min", "εᴛᴡ\u2009450C 3hr 2min", "εᵢ\u2002\u2009450C 10hr 0,5min", "εᵣ\u2002\u2009450C 10hr 0,5min", "εᴛᴡ\u2009450C 10hr 0,5min", "εᵢ\u2002\u2009450C 10hr 1min", "εᵣ\u2002\u2009450C 10hr 1min", "εᴛᴡ\u2009450C 10hr 1min", "εᵢ\u2002\u2009450C 10hr 2min", "εᵣ\u2002\u2009450C 10hr 2min", "εᴛᴡ\u2009450C 10hr 2min", "εᵢ\u2002\u2009450C 10hr 3min", "εᵣ\u2002\u2009450C 10hr 3min", "εᴛᴡ\u2009450C 10hr 3min"],
                "range": ["square", "square", "square", "triangle-up", "triangle-up", "triangle-up", "triangle-up", "triangle-up", "triangle-up", "circle", "circle", "circle", "circle", "circle", "circle", "circle", "circle", "circle", "circle", "circle", "circle"]},
              "legend": {"title": null, "orient": "none", "legendX": 410.8, "legendY": 58.7, "padding": 0, "labelFont": "Liberation Serif", "labelFontSize": 13, "labelColor": "#505050", "labelLimit": 0, "labelOffset": 4, "rowPadding": 1, "symbolSize": 40, "symbolStrokeWidth": 0}}}
        },
        {
          "data": {"name": "botArrows"},
          "mark": {"type": "point", "filled": true, "size": 64, "opacity": 1, "strokeWidth": 0, "shape": "M-0.8,-2.4L0.8,-2.4L0,0Z"},
          "encoding": {"x": {"field": "x", "type": "quantitative"}, "y": {"field": "y2", "type": "quantitative"},
            "fill": {"field": "k", "type": "nominal", "legend": null, "scale": {"domain": ["t", "el", "i", "f", "r", "TW"], "range": ["#3030a0", "#7030a0", "#00b0f0", "#000000", "#22c422", "#ff0000"]}}}
        },
        {
          "data": {"name": "botArrows"},
          "transform": [{"filter": "datum.k === 'f'"}],
          "mark": {"type": "point", "filled": true, "size": 64, "opacity": 1, "strokeWidth": 0, "shape": "M-0.8,2.4L0.8,2.4L0,0Z"},
          "encoding": {"x": {"field": "x", "type": "quantitative"}, "y": {"field": "y1", "type": "quantitative"},
            "fill": {"field": "k", "type": "nominal", "legend": null, "scale": {"domain": ["t", "el", "i", "f", "r", "TW"], "range": ["#3030a0", "#7030a0", "#00b0f0", "#000000", "#22c422", "#ff0000"]}}}
        },
        {
          "data": {"name": "botLabels"},
          "mark": {"type": "text", "text": "ε", "font": "Liberation Sans", "fontSize": 17, "align": "left", "baseline": "middle"},
          "encoding": {"x": {"field": "x", "type": "quantitative"}, "y": {"field": "y", "type": "quantitative"},
            "fill": {"field": "k", "type": "nominal", "legend": null, "scale": {"domain": ["t", "el", "i", "f", "r", "TW"], "range": ["#3030a0", "#7030a0", "#00b0f0", "#000000", "#22c422", "#ff0000"]}}}
        },
        {
          "data": {"name": "botLabels"},
          "mark": {"type": "text", "font": "Liberation Sans", "fontSize": 12, "align": "left", "baseline": "middle", "dx": 8.5, "dy": 4},
          "encoding": {"x": {"field": "x", "type": "quantitative"}, "y": {"field": "y", "type": "quantitative"}, "text": {"field": "sub"},
            "fill": {"field": "k", "type": "nominal", "legend": null, "scale": {"domain": ["t", "el", "i", "f", "r", "TW"], "range": ["#3030a0", "#7030a0", "#00b0f0", "#000000", "#22c422", "#ff0000"]}}}
        },
        {
          "data": {"name": "one"},
          "mark": {"type": "point", "filled": true, "size": 100, "opacity": 1, "color": "#000000", "strokeWidth": 0, "shape": "M-0.55,0L0.55,0L0,-1.9Z"},
          "encoding": {"x": {"datum": 0, "type": "quantitative"}, "y": {"datum": 30, "type": "quantitative"}}
        },
        {
          "data": {"name": "one"},
          "mark": {"type": "point", "filled": true, "size": 100, "opacity": 1, "color": "#000000", "strokeWidth": 0, "shape": "M0,-0.65L0,0.65L2.2,0Z"},
          "encoding": {"x": {"datum": 30, "type": "quantitative"}, "y": {"datum": 0, "type": "quantitative"}}
        }
      ]
    }
  ]
}
